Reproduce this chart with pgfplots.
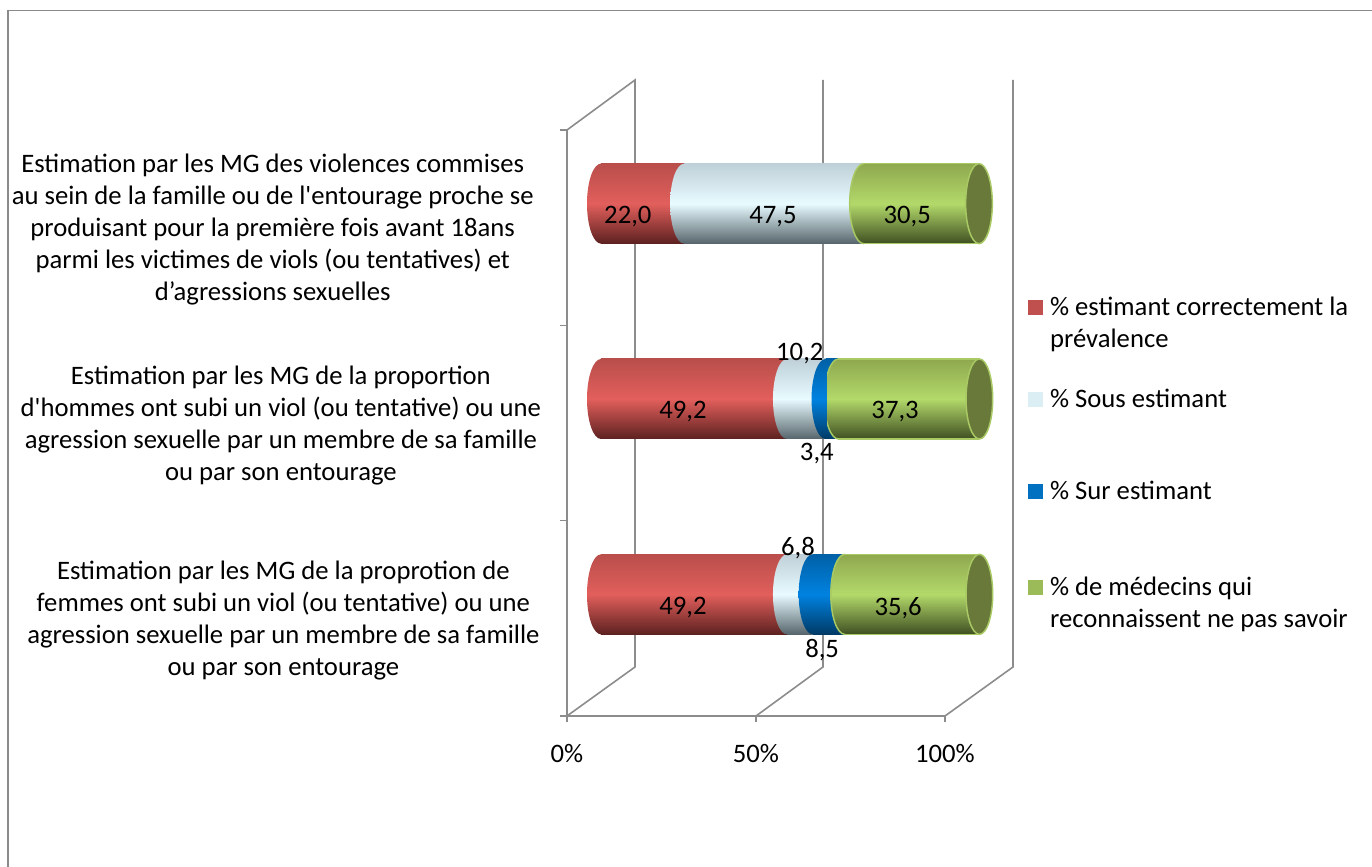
\documentclass[border=0pt]{standalone}
\usepackage{fontspec}
\setmainfont{Carlito}
\usepackage{pgfplots}
\pgfplotsset{compat=1.18}

\definecolor{axgray}{HTML}{8C8C8C}
\definecolor{framegray}{HTML}{8A8A8A}
\definecolor{redT}{HTML}{B94E4B}\definecolor{redM}{HTML}{E25F5C}\definecolor{redB}{HTML}{5C2120}
\definecolor{iceT}{HTML}{BFD0D8}\definecolor{iceM}{HTML}{E8FBFF}\definecolor{iceB}{HTML}{56656B}
\definecolor{bluT}{HTML}{0060A6}\definecolor{bluM}{HTML}{0082E0}\definecolor{bluB}{HTML}{003A66}
\definecolor{grnT}{HTML}{8FA84F}\definecolor{grnM}{HTML}{B3D96A}\definecolor{grnB}{HTML}{3F4F22}
\definecolor{grnLine}{HTML}{A8C964}\definecolor{grnCap}{HTML}{69793A}

\tikzset{
  redshade/.style={top color=redT,bottom color=redB,middle color=redM},
  iceshade/.style={top color=iceT,bottom color=iceB,middle color=iceM},
  blushade/.style={top color=bluT,bottom color=bluB,middle color=bluM},
  grnshade/.style={top color=grnT,bottom color=grnB,middle color=grnM},
  halfcap/.pic={},
}
\newcommand{\halfcap}{(1pt,30pt) -- (0,30pt) arc [start angle=90,end angle=270,x radius=10.5pt,y radius=30pt] -- (1pt,-30pt) -- cycle}
% end caps of the cylinders (1px = 0.75pt); only the left half shows, as
% the right half would spill over the part painted before
\pgfdeclareplotmark{capred}{\shade[redshade,draw=none] (0,0) ellipse [x radius=10.5pt,y radius=30pt];}
\pgfdeclareplotmark{capice}{\shade[iceshade,draw=none] \halfcap;}
\pgfdeclareplotmark{capblu}{\shade[blushade,draw=none] \halfcap;}
% pgf level for the strokes: a tikz path here would take the plot's shading
\pgfdeclareplotmark{capgrn}{%
  \shade[grnshade,draw=none] \halfcap;
  \pgfsetstrokecolor{grnLine}\pgfsetlinewidth{1.1pt}%
  \pgfpathmoveto{\pgfqpoint{0pt}{30pt}}\pgfpatharc{90}{270}{10.5pt and 30pt}\pgfusepath{stroke}}
\pgfdeclareplotmark{capend}{%
  \pgfsetfillcolor{grnCap}\pgfsetstrokecolor{grnLine}\pgfsetlinewidth{1.1pt}%
  \pgfpathellipse{\pgfpointorigin}{\pgfqpoint{10pt}{0pt}}{\pgfqpoint{0pt}{30pt}}\pgfusepath{fill,stroke}}

\pgfplotsset{
  plotarea/.style={
    width=283.5pt, height=439.5pt, scale only axis,
    xmin=0, xmax=100, ymin=0, ymax=3, clip=false,
  },
  barrow/.style={
    plotarea, at={(25.5pt,18pt)}, hide axis,
    xbar stacked, bar width=60pt, bar shift=0pt,
  },
}

% one cylinder: row, four values, mark at the end of the light part.
% stacked plots are painted last to first, so each part's end mark
% gives the rounded start of the next part
\newcommand{\cylinder}[6]{
\begin{axis}[barrow]
\addplot[draw=none,redshade,mark=capice] coordinates {(#2,#1)};
\addplot[draw=none,iceshade,mark=#6] coordinates {(#3,#1)};
\addplot[draw=none,blushade,mark=capgrn] coordinates {(#4,#1)};
\addplot[draw=none,grnshade,mark=capend] coordinates {(#5,#1)};
\end{axis}
}
% category name, moved sideways by #1
\newcommand{\cat}[2]{\makebox[410pt][c]{\hspace*{#1}\begin{tabular}{@{}c@{}}#2\end{tabular}}}
% legend entry, its baseline on the first line
\newcommand{\leg}[1]{\begin{tabular}[t]{@{}l@{}}#1\end{tabular}}

\begin{document}
\begin{tikzpicture}[font=\fontsize{20pt}{24pt}\selectfont]
\begin{scope}[x=0.75pt,y=-0.75pt,shift={(-567,-716)}]
  \useasboundingbox (0,0) rectangle (1372,867);
  \draw[framegray,line width=1.2pt] (8,867) -- (8,10.5) -- (1372,10.5);
  % walls and floor of the 3D box
  \draw[axgray,line width=1.2pt] (567,130) -- (635,80) -- (635,667) -- (567,716);
  \draw[axgray,line width=1.2pt] (756,716) -- (823,667) -- (823,80);
  \draw[axgray,line width=1.2pt] (945,716) -- (1013,667) -- (1013,80);
\end{scope}

% front axes with the ticks and the category names
\begin{axis}[
  plotarea,
  axis x line=bottom, axis y line=left,
  axis line style={axgray,line width=1.2pt,-},
  tick style={axgray,line width=1.2pt},
  tick align=outside,
  xtick={0,50,100}, xticklabels={0\%,50\%,100\%},
  major tick length=4.5pt, xtick pos=lower,
  x tick label style={yshift=-13pt},
  ytick={0.5,1.5,2.5},
  minor ytick={0,1,2,3},
  minor tick length=5pt,
  major y tick style={draw=none},
  yticklabels={
    {\cat{9pt}{Estimation par les MG de la proprotion de\\femmes ont subi un viol (ou tentative) ou une\\agression sexuelle par un membre de sa famille\\ou par son entourage}},
    {\cat{5.25pt}{Estimation par les MG de la proportion\\d\textquotesingle hommes ont subi un viol (ou tentative) ou une\\agression sexuelle par un membre de sa famille\\ou par son entourage}},
    {\cat{-7pt}{Estimation par les MG des violences commises\\au sein de la famille ou de l\textquotesingle entourage proche se\\produisant pour la première fois avant 18ans\\parmi les victimes de viols (ou tentatives) et\\d’agressions sexuelles}}},
  y tick label style={inner sep=0pt,xshift=-7.5pt,yshift=-2pt},
]
\end{axis}

\cylinder{0.5}{49.2}{6.8}{8.5}{35.6}{capblu}
\cylinder{1.5}{49.2}{10.2}{3.4}{37.3}{capblu}
\cylinder{2.5}{22.0}{47.5}{0}{30.5}{capgrn}

% left ends, data labels, the outline along the green parts and the legend
\begin{axis}[plotarea, at={(25.5pt,18pt)}, hide axis, unbounded coords=jump,
  legend style={
    at={(axis description cs:1.13,0.682)}, anchor=north west,
    draw=none, fill=none, inner sep=0pt, cells={anchor=base west},
    nodes={text depth=55.2pt,inner sep=0pt},
    row sep=0pt, column sep=5pt,
  },
  legend image code/.code={\path[#1,draw=none] (0pt,0pt) rectangle (11.25pt,11.25pt);},
]
\addlegendimage{fill={rgb,255:red,192;green,80;blue,77}}
\addlegendimage{fill={rgb,255:red,218;green,238;blue,243}}
\addlegendimage{fill={rgb,255:red,0;green,112;blue,192}}
\addlegendimage{fill={rgb,255:red,155;green,187;blue,89}}
\legend{{\leg{\% estimant correctement la\\prévalence}},{\% Sous estimant},{\% Sur estimant},{\leg{\% de médecins qui\\reconnaissent ne pas savoir}}}
\addplot[only marks,mark=capred,forget plot] coordinates {(0,0.5)(0,1.5)(0,2.5)};
\addplot[grnLine,line width=1.1pt,forget plot] coordinates {
  (64.5,0.295)(100,0.295)(100,nan)(64.5,0.705)(100,0.705)(100,nan)
  (62.8,1.295)(100,1.295)(100,nan)(62.8,1.705)(100,1.705)(100,nan)
  (69.5,2.295)(100,2.295)(100,nan)(69.5,2.705)(100,2.705)};
\addplot[only marks,mark=none,forget plot,point meta=explicit symbolic,nodes near coords,
  every node near coord/.style={anchor=center,inner sep=0pt,text=black,yshift=-1.5pt}]
  table[x=x,y=y,meta=v] {
x y v
7.1 2.442 22,0
45.5 2.442 47,5
81.0 2.442 30,5
21.7 1.444 49,2
52.6 1.741 10,2
57.1 1.229 3,4
77.8 1.444 37,3
21.7 0.440 49,2
52.1 0.747 6,8
58.5 0.225 8,5
78.6 0.440 35,6
};
\end{axis}
\end{tikzpicture}
\end{document}
